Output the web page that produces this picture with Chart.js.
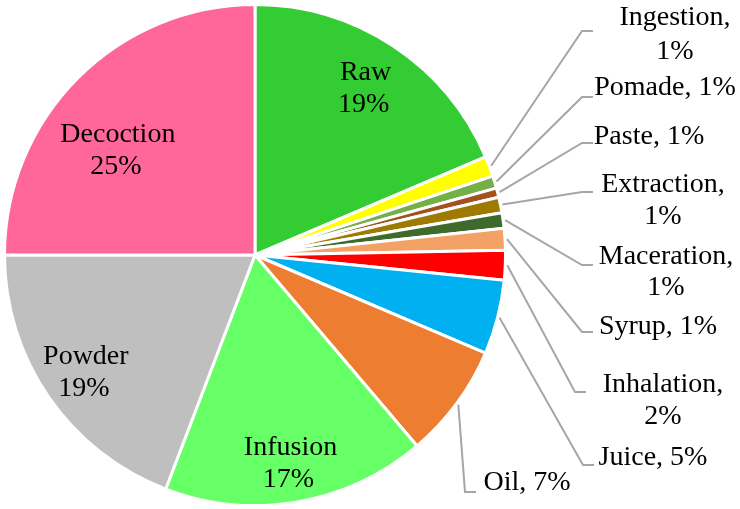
<!DOCTYPE html>
<html>
<head>
<meta charset="utf-8">
<script src="https://cdn.jsdelivr.net/npm/chart.js@4"></script>
<style>
  body { margin: 0; background: #fff; }
  #wrap { width: 740px; height: 509px; }
</style>
</head>
<body>
<div id="wrap"><canvas id="myChart"></canvas></div>
<script>
// share of each preparation method (%), clockwise from 12 o'clock
const methods = ["Raw", "Ingestion", "Pomade", "Paste", "Extraction", "Maceration", "Syrup",
                 "Inhalation", "Juice", "Oil", "Infusion", "Powder", "Decoction"];
const shares = [18.6, 1.3, 0.8, 0.6, 1.0, 1.0, 1.4, 1.9, 4.8, 7.4, 17.0, 19.2, 25.0];
const colors = ["#33CC33", "#FFFF00", "#75B046", "#A3511D", "#9E7A00", "#3E6B2C", "#F4A166",
                "#FF0000", "#00B0F0", "#ED7D31", "#66FF66", "#BFBFBF", "#FF6699"];

// labels drawn inside the pie: fraction of radius, angle nudge in degrees
const insideLabels = {
  Raw:       { r: 0.80, da: 0 },
  Decoction: { r: 0.69, da: -7.5 },
  Powder:    { r: 0.82, da: 0 },
  Infusion:  { r: 0.84, da: 0 }
};

// callout layout: elbow of the leader line, text centre x and line centres y
const callouts = {
  Ingestion:  { ex: 582, ey: 31,  cx: 675, ly: [18, 52],   split: true },
  Pomade:     { ex: 582, ey: 97,  cx: 665, ly: [88] },
  Paste:      { ex: 582, ey: 143, cx: 649, ly: [137] },
  Extraction: { ex: 582, ey: 192, cx: 663, ly: [185, 217], split: true },
  Maceration: { ex: 582, ey: 265, cx: 666, ly: [257, 288], split: true },
  Syrup:      { ex: 582, ey: 332, cx: 658, ly: [327] },
  Inhalation: { ex: 575, ey: 392, cx: 663, ly: [385, 417], split: true },
  Juice:      { ex: 583, ey: 465, cx: 653, ly: [458] },
  Oil:        { ex: 465, ey: 492, cx: 527, ly: [483] }
};

const labelFont = '28px "Liberation Serif"';

const pieLabels = {
  id: "pieLabels",
  afterDatasetsDraw(chart) {
    const ctx = chart.ctx;
    const arcs = chart.getDatasetMeta(0).data;
    ctx.save();
    ctx.font = labelFont;
    ctx.fillStyle = "#000";
    ctx.textBaseline = "middle";
    ctx.textAlign = "center";
    arcs.forEach(function (arc, i) {
      const name = methods[i];
      const pct = Math.round(shares[i]) + "%";
      const mid = (arc.startAngle + arc.endAngle) / 2;
      const inside = insideLabels[name];
      if (inside) {
        const a = mid + inside.da * Math.PI / 180;
        const r = arc.outerRadius * inside.r;
        const x = arc.x + Math.cos(a) * r;
        const y = arc.y + Math.sin(a) * r;
        ctx.fillText(name, x, y - 15);
        ctx.fillText(pct, x - 2, y + 17);
        return;
      }
      const c = callouts[name];
      const sx = arc.x + Math.cos(mid) * (arc.outerRadius + 2);
      const sy = arc.y + Math.sin(mid) * (arc.outerRadius + 2);
      ctx.strokeStyle = "#A6A6A6";
      ctx.lineWidth = 2;
      ctx.beginPath();
      ctx.moveTo(sx, sy);
      ctx.lineTo(c.ex, c.ey);
      ctx.lineTo(c.ex + 11, c.ey);
      ctx.stroke();
      const lines = c.split ? [name + ",", pct] : [name + ", " + pct];
      lines.forEach(function (t, k) {
        ctx.fillText(t, c.cx, c.ly[k]);
      });
    });
    ctx.restore();
  }
};

function drawChart() {
  const ctx = document.getElementById("myChart").getContext("2d");
  new Chart(ctx, {
    type: "pie",
    data: {
      labels: methods,
      datasets: [{
        data: shares,
        backgroundColor: colors,
        borderColor: "#FFFFFF",
        borderWidth: 3
      }]
    },
    options: {
      responsive: true,
      maintainAspectRatio: false,
      animation: false,
      layout: { padding: { left: 3, right: 233, top: 3, bottom: 2 } },
      plugins: {
        legend: { display: false },
        tooltip: { enabled: false }
      }
    },
    plugins: [pieLabels]
  });
}

document.fonts.load(labelFont).then(drawChart, drawChart);
</script>
</body>
</html>
